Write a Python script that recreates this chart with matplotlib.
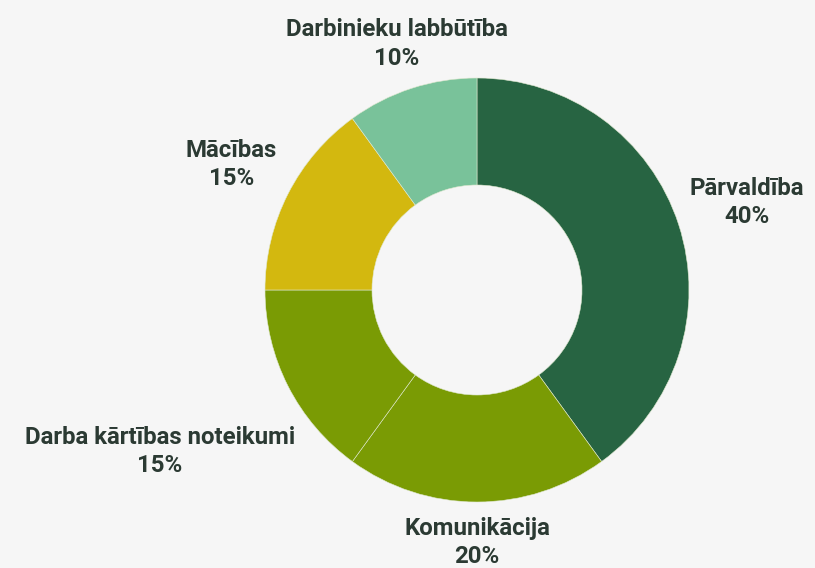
import matplotlib
matplotlib.use("Agg")
import matplotlib.pyplot as plt
import numpy as np

labels = ["Pārvaldība", "Komunikācija", "Darba kārtības noteikumi", "Mācības", "Darbinieku labbūtība"]
values = [40, 20, 15, 15, 10]
colors = ["#276442", "#7a9b04", "#7a9b04", "#d3b80f", "#79c29a"]
label_dist = [1.34, 1.19, 1.68, 1.30, 1.22]

W, H = 815, 568
fig = plt.figure(figsize=(W / 100, H / 100), dpi=100)
fig.patch.set_facecolor("#f6f6f6")
ax = fig.add_axes([0, 0, 1, 1])
ax.set_xlim(0, W)
ax.set_ylim(0, H)
ax.set_aspect("equal")
ax.axis("off")

cx, cy, R = 477, H - 290, 212
wedges, _ = ax.pie(values, colors=colors, startangle=90, counterclock=False,
                   radius=R, center=(cx, cy), frame=True,
                   wedgeprops=dict(width=R - 105, edgecolor="#dfe8cf", linewidth=0.4))
ax.set_xlim(0, W)
ax.set_ylim(0, H)
ax.axis("off")

for w, lab, v, d in zip(wedges, labels, values, label_dist):
    ang = np.deg2rad((w.theta1 + w.theta2) / 2)
    x = cx + R * d * np.cos(ang)
    y = cy + R * d * np.sin(ang)
    ax.text(x, y, f"{lab}\n{v}%", ha="center", va="center", fontsize=17.3,
            fontfamily="Roboto", fontweight="bold", color="#2b3a33", linespacing=1.28)

fig.savefig("out.png", dpi=100, facecolor=fig.get_facecolor())
